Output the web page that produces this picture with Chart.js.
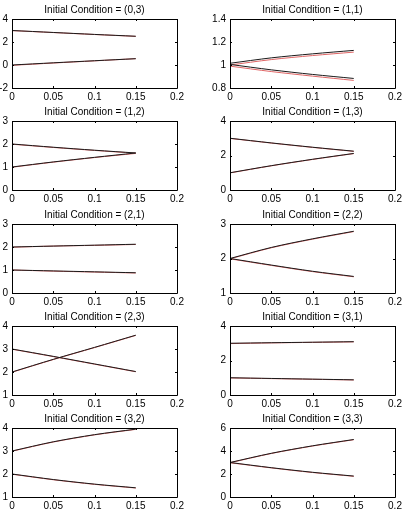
<!DOCTYPE html>
<html>
<head>
<meta charset="utf-8">
<script src="https://cdn.jsdelivr.net/npm/chart.js@4.4.1/dist/chart.umd.min.js"></script>
<style>
  body { margin: 0; background: #fff; }
  #wrap { position: relative; width: 408px; height: 521px; overflow: hidden; }
  canvas { position: absolute; }
</style>
</head>
<body>
<div id="wrap"></div>
<script>
// time samples and axis ticks
const t = [0, 0.05, 0.1, 0.15];
const xTicks = [0, 0.05, 0.1, 0.15, 0.2];

// (0,3)
const ic03_yTicks = [-2, 0, 2, 4];
const ic03_black1 = [3.0, 2.83, 2.66, 2.5];
const ic03_red1   = [2.99, 2.82, 2.65, 2.49];
const ic03_black2 = [0.0, 0.19, 0.37, 0.55];
const ic03_red2   = [-0.03, 0.17, 0.36, 0.55];
// (1,1)
const ic11_yTicks = [0.8, 1, 1.2, 1.4];
const ic11_black1 = [1.015, 1.062, 1.097, 1.127];
const ic11_red1   = [1.0, 1.047, 1.082, 1.112];
const ic11_black2 = [1.005, 0.958, 0.918, 0.883];
const ic11_red2   = [0.99, 0.943, 0.903, 0.866];
// (1,2)
const ic12_yTicks = [0, 1, 2, 3];
const ic12_black1 = [2.0, 1.86, 1.73, 1.61];
const ic12_red1   = [1.99, 1.85, 1.72, 1.6];
const ic12_black2 = [1.0, 1.22, 1.42, 1.61];
const ic12_red2   = [0.99, 1.21, 1.41, 1.59];
// (1,3)
const ic13_yTicks = [0, 2, 4];
const ic13_black1 = [3.0, 2.73, 2.48, 2.25];
const ic13_red1   = [2.99, 2.72, 2.47, 2.24];
const ic13_black2 = [1.0, 1.41, 1.78, 2.12];
const ic13_red2   = [0.99, 1.4, 1.77, 2.11];
// (2,1)
const ic21_yTicks = [0, 1, 2, 3];
const ic21_black1 = [2.0, 2.04, 2.08, 2.12];
const ic21_red1   = [1.99, 2.04, 2.07, 2.11];
const ic21_black2 = [1.0, 0.96, 0.92, 0.88];
const ic21_red2   = [1.0, 0.95, 0.91, 0.87];
// (2,2)
const ic22_yTicks = [1, 2, 3];
const ic22_black1 = [2.0, 2.32, 2.57, 2.79];
const ic22_red1   = [1.99, 2.31, 2.56, 2.78];
const ic22_black2 = [2.0, 1.81, 1.63, 1.48];
const ic22_red2   = [1.99, 1.8, 1.62, 1.47];
// (2,3)
const ic23_yTicks = [1, 2, 3, 4];
const ic23_black1 = [3.0, 2.68, 2.35, 2.02];
const ic23_red1   = [2.99, 2.67, 2.34, 2.01];
const ic23_black2 = [2.0, 2.55, 3.07, 3.6];
const ic23_red2   = [1.99, 2.54, 3.06, 3.59];
// (3,1)
const ic31_yTicks = [0, 2, 4];
const ic31_black1 = [3.0, 3.03, 3.06, 3.09];
const ic31_red1   = [2.98, 3.02, 3.05, 3.08];
const ic31_black2 = [1.0, 0.96, 0.92, 0.88];
const ic31_red2   = [0.99, 0.95, 0.91, 0.87];
// (3,2)
const ic32_yTicks = [1, 2, 3, 4];
const ic32_black1 = [3.0, 3.4, 3.71, 3.95];
const ic32_red1   = [2.99, 3.39, 3.7, 3.94];
const ic32_black2 = [2.0, 1.76, 1.56, 1.4];
const ic32_red2   = [1.99, 1.75, 1.55, 1.39];
// (3,3)
const ic33_yTicks = [0, 2, 4, 6];
const ic33_black1 = [3.0, 3.8, 4.45, 5.0];
const ic33_red1   = [2.98, 3.78, 4.43, 4.98];
const ic33_black2 = [3.0, 2.55, 2.15, 1.82];
const ic33_red2   = [2.98, 2.53, 2.13, 1.8];

const panels = [
  ['(0,3)', ic03_yTicks, ic03_black1, ic03_red1, ic03_black2, ic03_red2],
  ['(1,1)', ic11_yTicks, ic11_black1, ic11_red1, ic11_black2, ic11_red2],
  ['(1,2)', ic12_yTicks, ic12_black1, ic12_red1, ic12_black2, ic12_red2],
  ['(1,3)', ic13_yTicks, ic13_black1, ic13_red1, ic13_black2, ic13_red2],
  ['(2,1)', ic21_yTicks, ic21_black1, ic21_red1, ic21_black2, ic21_red2],
  ['(2,2)', ic22_yTicks, ic22_black1, ic22_red1, ic22_black2, ic22_red2],
  ['(2,3)', ic23_yTicks, ic23_black1, ic23_red1, ic23_black2, ic23_red2],
  ['(3,1)', ic31_yTicks, ic31_black1, ic31_red1, ic31_black2, ic31_red2],
  ['(3,2)', ic32_yTicks, ic32_black1, ic32_red1, ic32_black2, ic32_red2],
  ['(3,3)', ic33_yTicks, ic33_black1, ic33_red1, ic33_black2, ic33_red2],
];

// matlab style box with inward ticks
const boxPlugin = {
  id: 'box',
  afterDraw(chart) {
    const { ctx, chartArea: a, scales } = chart;
    ctx.save();
    ctx.strokeStyle = '#000';
    ctx.lineWidth = 1;
    ctx.beginPath();
    ctx.rect(Math.round(a.left) + 0.5, Math.round(a.top) + 0.5,
      Math.round(a.right - a.left), Math.round(a.bottom - a.top));
    const len = 2;
    scales.x.ticks.forEach(tk => {
      const px = Math.round(scales.x.getPixelForValue(tk.value)) + 0.5;
      ctx.moveTo(px, a.bottom); ctx.lineTo(px, a.bottom - len);
      ctx.moveTo(px, a.top); ctx.lineTo(px, a.top + len);
    });
    scales.y.ticks.forEach(tk => {
      const py = Math.round(scales.y.getPixelForValue(tk.value)) + 0.5;
      ctx.moveTo(a.left, py); ctx.lineTo(a.left + len, py);
      ctx.moveTo(a.right, py); ctx.lineTo(a.right - len, py);
    });
    ctx.stroke();
    ctx.restore();
  }
};

const wrap = document.getElementById('wrap');
const font = { family: '"Liberation Sans", Arial, sans-serif', size: 10 };
const titleH = 17, plotH = 69, axisH = 16;

panels.forEach((p, i) => {
  const [label, yTicks, b1, r1, b2, r2] = p;
  const col = i % 2, row = Math.floor(i / 2);
  const plotTop = 19 + row * 102.3;
  const left = col === 0 ? 0 : 204;
  const width = col === 0 ? 200 : 204;
  const yW = col === 0 ? 12 : 26;
  const plotW = 165;

  const canvas = document.createElement('canvas');
  canvas.width = width;
  canvas.height = titleH + plotH + axisH;
  canvas.style.left = left + 'px';
  canvas.style.top = Math.round(plotTop - titleH) + 'px';
  wrap.appendChild(canvas);

  const pts = arr => t.map((x, k) => ({ x, y: arr[k] }));
  const line = (arr, color) => ({
    data: pts(arr), borderColor: color, borderWidth: 1,
    pointRadius: 0, fill: false, tension: 0.3
  });

  new Chart(canvas, {
    type: 'line',
    data: {
      datasets: [
        line(b1, '#1a1a1a'), line(b2, '#1a1a1a'),
        line(r1, '#e06666'), line(r2, '#e06666'),
      ],
    },
    options: {
      responsive: false,
      animation: false,
      layout: { padding: { left: 0, right: width - yW - plotW, top: 0, bottom: 0 } },
      plugins: {
        legend: { display: false },
        tooltip: { enabled: false },
        title: {
          display: true, fullSize: false,
          text: 'Initial Condition = ' + label,
          color: '#000', font: { ...font, weight: 'normal', lineHeight: 1.2 },
          padding: { top: 2, bottom: 3 },
        },
      },
      scales: {
        x: {
          type: 'linear', min: 0, max: 0.2,
          grid: { display: false, drawTicks: false },
          border: { display: false },
          afterBuildTicks: s => { s.ticks = xTicks.map(v => ({ value: v })); },
          afterFit: s => { s.height = axisH; },
          ticks: { color: '#000', font, padding: 3, maxRotation: 0, autoSkip: false,
            callback: v => String(v) },
        },
        y: {
          min: yTicks[0], max: yTicks[yTicks.length - 1],
          grid: { display: false, drawTicks: false },
          border: { display: false },
          afterBuildTicks: s => { s.ticks = yTicks.map(v => ({ value: v })); },
          afterFit: s => { s.width = yW; },
          ticks: { color: '#000', font, padding: 4, autoSkip: false,
            callback: v => String(v) },
        },
      },
    },
    plugins: [boxPlugin],
  });
});
</script>
</body>
</html>
